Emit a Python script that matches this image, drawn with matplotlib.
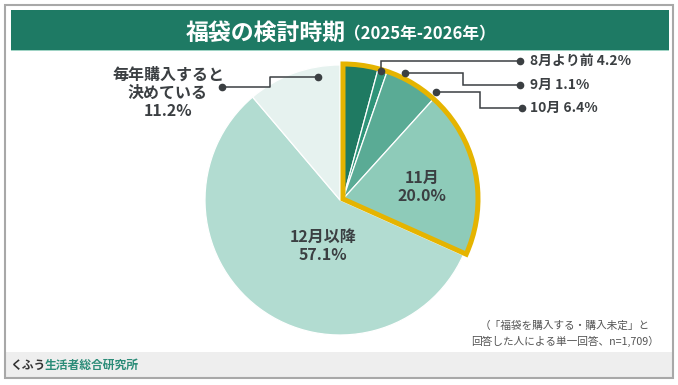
import matplotlib
matplotlib.use("Agg")
import matplotlib.pyplot as plt
from matplotlib.patches import Wedge, Rectangle
import numpy as np

plt.rcParams['font.family'] = ['Noto Sans CJK JP', 'DejaVu Sans']

# ---- data ----
categories = ["8月より前", "9月", "10月", "11月", "12月以降", "毎年購入すると\n決めている"]
values = [4.2, 1.1, 6.4, 20.0, 57.1, 11.2]
colors = ["#1f7a62", "#2f9479", "#5aab95", "#8ecbb9", "#b2dcd1", "#e6f2ef"]
highlight = [True, True, True, True, False, False]
title = "福袋の検討時期"
subtitle = "（2025年-2026年）"
note_lines = ["（「福袋を購入する・購入未定」と", "回答した人による単一回答、n=1,709）"]
footer_a = "くふう"
footer_b = "生活者総合研究所"

W, H = 678, 385
fig = plt.figure(figsize=(W / 100, H / 100), dpi=100)
ax = fig.add_axes([0, 0, 1, 1])

# pie (y axis inverted: pixel-like coordinates)
cx, cy, R = 340, 200, 135
wedges, _ = ax.pie(values, colors=colors, startangle=-90, counterclock=True,
                   center=(cx, cy), radius=R,
                   wedgeprops=dict(edgecolor="white", linewidth=0.9))
ax.set_xlim(0, W)
ax.set_ylim(H, 0)
ax.set_aspect("auto")
ax.axis("off")

shift = (3, -1)
hl = [w for w, h in zip(wedges, highlight) if h]
for w in hl:
    w.set_center((cx + shift[0], cy + shift[1]))
t1 = min(w.theta1 for w in hl)
t2 = max(w.theta2 for w in hl)
ax.add_patch(Wedge((cx + shift[0], cy + shift[1]), R, t1, t2, fill=False,
                   edgecolor="#e5b400", linewidth=3.6, joinstyle="miter", zorder=5))

txt = "#3b3f42"
# slice labels
ax.text(422, 187, f"{categories[3]}\n{values[3]:.1f}%", ha="center", va="center",
        fontsize=11.5, fontweight="bold", color=txt, linespacing=1.2, zorder=6)
ax.text(323, 246, f"{categories[4]}\n{values[4]:.1f}%", ha="center", va="center",
        fontsize=11.5, fontweight="bold", color=txt, linespacing=1.2, zorder=6)
ax.text(168, 93, f"{categories[5]}\n{values[5]:.1f}%", ha="center", va="center",
        fontsize=11.5, fontweight="bold", color=txt, linespacing=1.15, zorder=6)

# leader lines
lc = "#3b3f42"
leaders = [
    ([381, 381, 520], [71, 61, 61], 0),
    ([405, 463, 463, 520], [73, 73, 85, 85], 1),
    ([436, 480, 480, 522], [92, 92, 108, 108], 2),
]
for xs, ys, i in leaders:
    ax.plot(xs, ys, color=lc, lw=1.1, zorder=7, solid_joinstyle="miter")
    ax.plot([xs[0], xs[-1]], [ys[0], ys[-1]], "o", color=lc, ms=4.5, zorder=8)
    ax.text(530, ys[-1], f"{categories[i]} {values[i]:.1f}%", ha="left", va="center",
            fontsize=10, fontweight="bold", color=txt)
xs, ys = [318, 270, 270, 222], [77, 77, 87, 87]
ax.plot(xs, ys, color=lc, lw=1.1, zorder=7)
ax.plot([xs[0], xs[-1]], [ys[0], ys[-1]], "o", color=lc, ms=4.5, zorder=8)

# frame, banner, footer
ax.add_patch(Rectangle((5, 5), 668, 373, fill=False, edgecolor="#a8a8a8", lw=1.5, zorder=1))
ax.add_patch(Rectangle((11, 10), 658, 40, facecolor="#1e7a64", edgecolor="none", zorder=2))
ax.add_patch(Rectangle((11, 50), 658, 1.2, facecolor="#9fd3c4", edgecolor="none", zorder=2))
ax.add_patch(Rectangle((6, 352), 666, 25.5, facecolor="#eeeeee", edgecolor="none", zorder=0))

ax.text(186, 31, title, ha="left", va="center_baseline", fontsize=16.5, fontweight="bold",
        color="white", zorder=3)
ax.text(344, 32, subtitle, ha="left", va="center_baseline", fontsize=12, fontweight="bold",
        color="white", zorder=3)

for k, line in enumerate(note_lines):
    ax.text(565, 326 + 15 * k, line, ha="center", va="center", fontsize=7.7, color="#555555")

ax.text(10, 365, footer_a, ha="left", va="center", fontsize=8.5, fontweight="bold", color="#333333")
ax.text(45, 365, footer_b, ha="left", va="center", fontsize=8.5, fontweight="bold", color="#2b8c78")

fig.savefig("out.png", dpi=100)
